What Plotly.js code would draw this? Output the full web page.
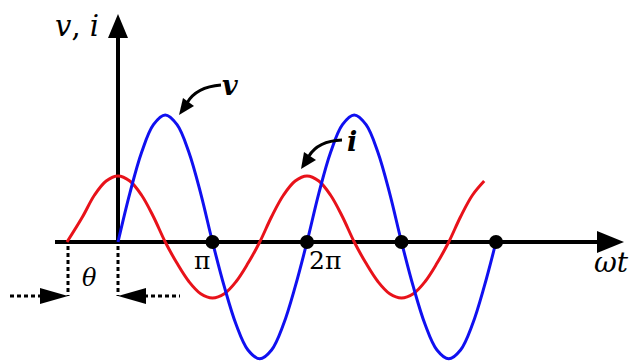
<!DOCTYPE html>
<html><head><meta charset="utf-8">
<script src="https://cdn.plot.ly/plotly-3.0.1.min.js"></script>
<style>html,body{margin:0;padding:0;background:#fff}#plot{width:631px;height:364px}</style>
</head><body><div id="plot"></div>
<script>
// x in units of pi (omega t / pi), y relative to voltage peak
const vX = [0,0.125,0.25,0.375,0.5,0.625,0.75,0.875,1,1.125,1.25,1.375,1.5,1.625,1.75,1.875,2,2.125,2.25,2.375,2.5,2.625,2.75,2.875,3,3.125,3.25,3.375,3.5,3.625,3.75,3.875,4];
const vY = [0,0.383,0.707,0.924,1,0.924,0.707,0.383,0,-0.352,-0.65,-0.85,-0.92,-0.85,-0.65,-0.352,0,0.383,0.707,0.924,1,0.924,0.707,0.383,0,-0.352,-0.65,-0.85,-0.92,-0.85,-0.65,-0.352,0];
const iX = [-0.54,-0.375,-0.25,-0.125,0,0.125,0.25,0.375,0.5,0.625,0.75,0.875,1,1.125,1.25,1.375,1.5,1.625,1.75,1.875,2,2.125,2.25,2.375,2.5,2.625,2.75,2.875,3,3.125,3.25,3.375,3.5,3.625,3.75,3.875];
const iY = [0,0.199,0.368,0.48,0.52,0.48,0.368,0.199,0,-0.168,-0.311,-0.407,-0.44,-0.407,-0.311,-0.168,0,0.199,0.368,0.48,0.52,0.48,0.368,0.199,0,-0.168,-0.311,-0.407,-0.44,-0.407,-0.311,-0.168,0,0.199,0.368,0.48];
const dotX = [1,2,3,4];
const dotY = [0,0,0,0];
const tickLabels = ['π','2π'];

// pixel -> data helpers for decoration placement
const OX=118, OY=242, PX=94.5, PY=127;
const X = p => (p-OX)/PX;
const Y = p => (OY-p)/PY;
const P = (x,y) => X(x).toFixed(4)+','+Y(y).toFixed(4);

const SERIF = 'DejaVu Serif';

const traces = [
  {x:iX, y:iY, mode:'lines', line:{color:'#e8121a', width:3, shape:'spline'}, hoverinfo:'skip'},
  {x:vX, y:vY, mode:'lines', line:{color:'#1010f0', width:3, shape:'spline'}, hoverinfo:'skip'},
  {x:dotX, y:dotY, mode:'markers', marker:{color:'#000', size:14}, hoverinfo:'skip'}
];

const blk = {color:'#000', width:4};
const dash = {color:'#000', width:3, dash:'4px,3px'};
const shapes = [
  {type:'line', xref:'x', yref:'y', x0:X(55), y0:Y(242), x1:X(600), y1:Y(242), line:blk, layer:'below'},
  {type:'line', xref:'x', yref:'y', x0:X(118), y0:Y(242), x1:X(118), y1:Y(32), line:blk, layer:'below'},
  {type:'path', xref:'x', yref:'y', path:'M'+P(118,14)+' L'+P(108,38)+' L'+P(128,38)+' Z', fillcolor:'#000', line:{width:0}},
  {type:'path', xref:'x', yref:'y', path:'M'+P(624,242)+' L'+P(597,231)+' L'+P(597,253)+' Z', fillcolor:'#000', line:{width:0}},
  {type:'line', xref:'x', yref:'y', x0:X(68), y0:Y(246), x1:X(68), y1:Y(296), line:dash},
  {type:'line', xref:'x', yref:'y', x0:X(118), y0:Y(246), x1:X(118), y1:Y(296), line:dash},
  {type:'line', xref:'x', yref:'y', x0:X(10), y0:Y(296), x1:X(42), y1:Y(296), line:dash},
  {type:'line', xref:'x', yref:'y', x0:X(144), y0:Y(296), x1:X(180), y1:Y(296), line:dash},
  {type:'path', xref:'x', yref:'y', path:'M'+P(68,296)+' L'+P(40,288)+' L'+P(40,304)+' Z', fillcolor:'#000', line:{width:0}},
  {type:'path', xref:'x', yref:'y', path:'M'+P(118,296)+' L'+P(146,288)+' L'+P(146,304)+' Z', fillcolor:'#000', line:{width:0}},
  {type:'path', xref:'x', yref:'y', path:'M'+P(221,85)+' Q'+P(196,87)+' '+P(187,103), line:{color:'#000', width:3}},
  {type:'path', xref:'x', yref:'y', path:'M'+P(179,115)+' L'+P(183,98)+' L'+P(194,106)+' Z', fillcolor:'#000', line:{width:0}},
  {type:'path', xref:'x', yref:'y', path:'M'+P(342,140)+' Q'+P(318,141)+' '+P(309,156), line:{color:'#000', width:3}},
  {type:'path', xref:'x', yref:'y', path:'M'+P(301,169)+' L'+P(304,152)+' L'+P(316,160)+' Z', fillcolor:'#000', line:{width:0}}
];

function ann(t, x, y, sz, xa) {
  return {text:t, xref:'x', yref:'y', x:X(x), y:Y(y), showarrow:false,
    xanchor:xa || 'center', yanchor:'middle', font:{family:SERIF, size:sz, color:'#000'}};
}
const annotations = [
  ann('<i>v</i>, <i>i</i>', 77, 26, 29),
  ann('<i>θ</i>', 89, 278, 24),
  ann(tickLabels[0], 202, 260, 25),
  ann(tickLabels[1], 325, 260, 25),
  ann('<i>ωt</i>', 592, 262, 28, 'left'),
  ann('<b><i>v</i></b>', 230, 85, 27),
  ann('<b><i>i</i></b>', 352, 141, 27)
];

const layout = {
  width:631, height:364, margin:{l:0,r:0,t:0,b:0},
  paper_bgcolor:'#fff', plot_bgcolor:'#fff', showlegend:false,
  font:{family:SERIF, color:'#000'},
  xaxis:{range:[X(0), X(631)], visible:false, fixedrange:true},
  yaxis:{range:[Y(364), Y(0)], visible:false, fixedrange:true},
  shapes:shapes, annotations:annotations
};
Plotly.newPlot('plot', traces, layout, {staticPlot:true, displayModeBar:false});
</script></body></html>
